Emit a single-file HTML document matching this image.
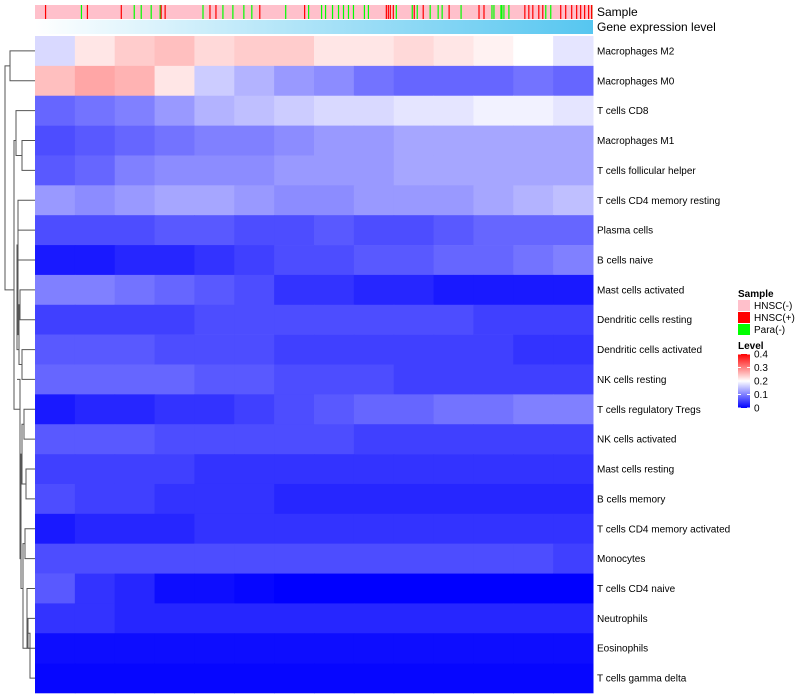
<!DOCTYPE html>
<html><head><meta charset="utf-8"><style>
body{margin:0;background:#fff;width:800px;height:700px;overflow:hidden;font-family:"Liberation Sans",sans-serif}
svg{display:block}
</style></head><body>
<svg id="chart" width="800" height="700"></svg>
<script>
const rowNames=["Macrophages M2","Macrophages M0","T cells CD8","Macrophages M1","T cells follicular helper","T cells CD4 memory resting","Plasma cells","B cells naive","Mast cells activated","Dendritic cells resting","Dendritic cells activated","NK cells resting","T cells regulatory  Tregs","NK cells activated","Mast cells resting","B cells memory","T cells CD4 memory activated","Monocytes","T cells CD4 naive","Neutrophils","Eosinophils","T cells gamma delta"];
const row1=[0.17,0.22,0.24,0.25,0.23,0.24,0.24,0.22,0.22,0.23,0.22,0.21,0.2,0.18];
const row2=[0.25,0.27,0.26,0.22,0.16,0.14,0.12,0.11,0.09,0.08,0.08,0.08,0.09,0.08];
const row3=[0.08,0.09,0.1,0.12,0.14,0.15,0.16,0.17,0.17,0.18,0.18,0.19,0.19,0.18];
const row4=[0.06,0.07,0.08,0.09,0.1,0.1,0.11,0.12,0.12,0.13,0.13,0.13,0.13,0.13];
const row5=[0.07,0.08,0.1,0.11,0.11,0.11,0.12,0.12,0.12,0.13,0.13,0.13,0.13,0.13];
const row6=[0.12,0.11,0.12,0.13,0.13,0.12,0.11,0.11,0.12,0.12,0.12,0.13,0.14,0.15];
const row7=[0.06,0.06,0.06,0.07,0.07,0.06,0.06,0.07,0.06,0.06,0.07,0.08,0.08,0.08];
const row8=[0.02,0.02,0.03,0.03,0.04,0.05,0.06,0.06,0.07,0.07,0.08,0.08,0.09,0.1];
const row9=[0.1,0.1,0.09,0.08,0.07,0.06,0.04,0.04,0.03,0.03,0.02,0.02,0.02,0.02];
const row10=[0.05,0.05,0.05,0.05,0.06,0.06,0.06,0.06,0.06,0.06,0.06,0.05,0.05,0.05];
const row11=[0.07,0.07,0.07,0.06,0.06,0.06,0.05,0.05,0.05,0.05,0.05,0.05,0.04,0.04];
const row12=[0.08,0.08,0.08,0.08,0.07,0.07,0.06,0.06,0.06,0.05,0.05,0.05,0.05,0.05];
const row13=[0.02,0.03,0.03,0.04,0.04,0.05,0.06,0.07,0.08,0.08,0.09,0.09,0.1,0.1];
const row14=[0.07,0.07,0.07,0.06,0.06,0.06,0.06,0.06,0.05,0.05,0.05,0.05,0.05,0.05];
const row15=[0.05,0.05,0.05,0.05,0.04,0.04,0.04,0.04,0.04,0.04,0.04,0.04,0.04,0.04];
const row16=[0.06,0.05,0.05,0.04,0.04,0.04,0.03,0.03,0.03,0.03,0.03,0.03,0.03,0.03];
const row17=[0.02,0.03,0.03,0.03,0.04,0.04,0.04,0.04,0.04,0.04,0.04,0.04,0.04,0.04];
const row18=[0.06,0.06,0.06,0.06,0.06,0.06,0.06,0.06,0.06,0.06,0.06,0.06,0.06,0.05];
const row19=[0.07,0.04,0.03,0.01,0.01,0.005,0,0,0,0,0,0,0,0];
const row20=[0.04,0.04,0.03,0.03,0.03,0.03,0.03,0.03,0.03,0.03,0.03,0.03,0.03,0.03];
const row21=[0.01,0.01,0.01,0.01,0.01,0.01,0.01,0.01,0.01,0.01,0.01,0.01,0.01,0.01];
const row22=[0.005,0.005,0.005,0.005,0.005,0.005,0.005,0.005,0.005,0.005,0.005,0.005,0.005,0.005];
const greenCols=[46,99,106,116,125,168,188,198,209,217,251,274,287,291,298,304,309,314,319,330,334,362,378,383,396,404,408,427,458,460,467,468,470,475,512,517,558];
const redCols=[10,52,86,126,130,175,181,225,270,352,354,356,359,380,389,415,445,450,491,495,499,505,509,527,532,538,543,547,551,555,558];
const levelTicks=[0,0.1,0.2,0.3,0.4];

const rows=[row1,row2,row3,row4,row5,row6,row7,row8,row9,row10,row11,row12,row13,row14,row15,row16,row17,row18,row19,row20,row21,row22];
const NS="http://www.w3.org/2000/svg";
const svg=document.getElementById('chart');
function mk(t,a,p){const e=document.createElementNS(NS,t);for(const k in a)e.setAttribute(k,a[k]);(p||svg).appendChild(e);return e;}
const X0=35,X1=593,Y0=36,Y1=693,NCOL=560;
const rowH=(Y1-Y0)/rows.length;
function col(v){v=Math.max(0,Math.min(0.4,v));let r,g,b;
 if(v<=0.2){const t=v/0.2;r=Math.round(255*t);g=Math.round(255*t);b=255;}
 else{const t=(v-0.2)/0.2;r=255;g=Math.round(255*(1-t));b=Math.round(255*(1-t));}
 return `rgb(${r},${g},${b})`;}
const xCol=i=>X0+(X1-X0)*i/NCOL;
// sample annotation
const sa=mk('g',{});
mk('rect',{x:X0,y:5,width:X1-X0,height:14,fill:'#ffc0cb'},sa);
greenCols.forEach(c=>{const r=mk('rect',{x:xCol(c),y:5,width:1.2,height:14,fill:'#00ff00'},sa);});
redCols.forEach(c=>{const r=mk('rect',{x:xCol(c),y:5,width:1.2,height:14,fill:'#ff0000'},sa);});
// gene expression bar
const defs=mk('defs',{});
const lg=mk('linearGradient',{id:'ge',x1:0,x2:1,y1:0,y2:0},defs);
mk('stop',{offset:0,'stop-color':'#ffffff'},lg);mk('stop',{offset:1,'stop-color':'#56c6f0'},lg);
const lg2=mk('linearGradient',{id:'lv',x1:0,x2:0,y1:0,y2:1},defs);
mk('stop',{offset:0,'stop-color':'#ff0000'},lg2);mk('stop',{offset:0.5,'stop-color':'#ffffff'},lg2);mk('stop',{offset:1,'stop-color':'#0000ff'},lg2);
const ge=mk('rect',{x:X0,y:20,width:X1-X0,height:14,fill:'url(#ge)'});

const lab=(x,y,s,t,w)=>{const e=mk('text',{x,y,'font-size':s,'font-weight':w||'normal',fill:'#000'});e.textContent=t;return e;};
let e=lab(597,16,12,'Sample');
e=lab(597,31,12,'Gene expression level');
// heatmap
rows.forEach((vals,ri)=>{
 const g=mk('g',{});
 const y=Y0+ri*rowH,w=(X1-X0)/vals.length;
 vals.forEach((v,ci)=>{const c=mk('rect',{x:X0+ci*w,y:y,width:w+0.5,height:rowH+0.3,fill:col(v)},g);
  });
 const t=lab(597,y+rowH/2+3.5,10,rowNames[ri]);
});
// dendrogram (approximate)
const dg=mk('g',{stroke:'#555','stroke-width':1,fill:'none'});
const cy=i=>Y0+(i+0.5)*rowH;
function link(x,ya,yb,xa,xb){mk('path',{d:`M${xa},${ya}H${x}V${yb}H${xb}`},dg);}
link(10,cy(0),cy(1),35,35);
link(22,cy(3),cy(4),35,35);
link(16,cy(2),(cy(3)+cy(4))/2,35,22);
link(18,cy(6),cy(7),35,35);
link(20,cy(8),cy(9),35,35);
link(22,cy(10),cy(11),35,35);
link(19,cy(9)-rowH/2,(cy(10)+cy(11))/2,20,22);
link(17,(cy(6)+cy(7))/2,cy(10),18,19);
link(18,cy(5),cy(10)-rowH*0.5,35,17);
link(24,cy(12),cy(13),35,35);
link(26,cy(14),cy(15),35,35);
link(22,(cy(12)+cy(13))/2,(cy(14)+cy(15))/2,24,26);
link(25,cy(16),cy(17),35,35);
link(28,cy(19),cy(20),35,35);
link(30,(cy(19)+cy(20))/2,cy(21),28,35);
link(27,cy(18),cy(20),35,30);
link(23,(cy(16)+cy(17))/2,cy(19)+rowH,25,27);
link(21,cy(13)+rowH/2,cy(18),22,23);
link(20,cy(10)+rowH,cy(17),17,21);
link(14,cy(3),cy(12),16,20);
link(5,(cy(0)+cy(1))/2,cy(8),10,14);
// legend
const lgG=mk('g',{});
e=lab(738,297,10,'Sample','bold');
[['HNSC(-)','#ffc0cb'],['HNSC(+)','#ff0000'],['Para(-)','#00ff00']].forEach((d,i)=>{
 const r=mk('rect',{x:738,y:300+i*12,width:12,height:11,fill:d[1]});
 const t=lab(754,309+i*12,10,d[0]);
});
e=lab(738,349,10,'Level','bold');
const lvTop=354,lvBot=408;
e=mk('rect',{x:738,y:lvTop,width:12,height:lvBot-lvTop,fill:'url(#lv)'});
levelTicks.forEach(v=>{const y=lvBot-(lvBot-lvTop)*v/0.4;
 mk('line',{x1:738,x2:741,y1:y,y2:y,stroke:'#fff'});mk('line',{x1:747,x2:750,y1:y,y2:y,stroke:'#fff'});
 const t=lab(754,y+3.5,10,String(v));});
</script>
</body></html>
